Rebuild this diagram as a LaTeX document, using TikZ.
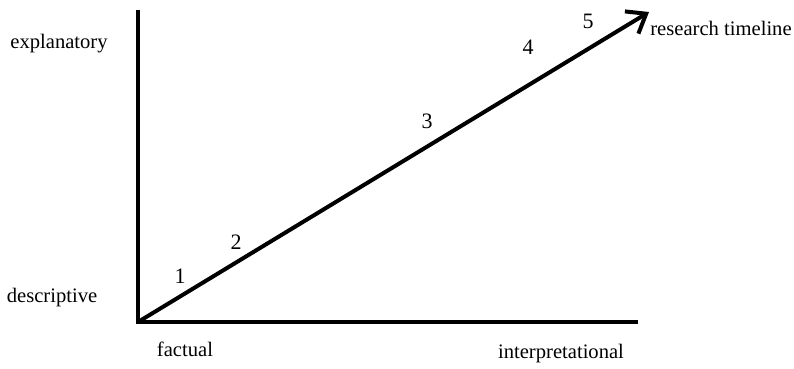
\documentclass[tikz,border=0pt]{standalone}
\usepackage{fontspec}
\setmainfont{Liberation Serif}
\usetikzlibrary{arrows.meta}
\begin{document}
\begin{tikzpicture}[x=1pt,y=-1pt,
  axisline/.style={line width=4pt},
  lbl/.style={font=\fontsize{20.6}{24}\selectfont, inner sep=0pt, anchor=center},
  num/.style={font=\fontsize{22}{26}\selectfont, inner sep=0pt, anchor=center}]
\useasboundingbox (0,0) rectangle (794,368);
\coordinate (O) at (138,322);
\coordinate (Ytop) at (138,10);
\coordinate (Xend) at (638,322);
\coordinate (Tip) at (649,12);
\draw[axisline, line join=miter] (Ytop) -- (O) -- (Xend);
\draw[axisline, -{Straight Barb[length=17pt,width=26pt,line width=4pt]}] (O) -- (Tip);
\node[lbl] (expl) at (59,44) {explanatory};
\node[lbl] (desc) at (52,298) {descriptive};
\node[lbl] (fact) at (185,349) {factual};
\node[lbl] (interp) at (561,354) {interpretational};
\node[lbl] (rt) at (721,28) {research timeline};
\node[num] (n1) at (180,276) {1};
\node[num] (n2) at (236,242) {2};
\node[num] (n3) at (427,121) {3};
\node[num] (n4) at (528,47) {4};
\node[num] (n5) at (588,21) {5};
\end{tikzpicture}
\end{document}
